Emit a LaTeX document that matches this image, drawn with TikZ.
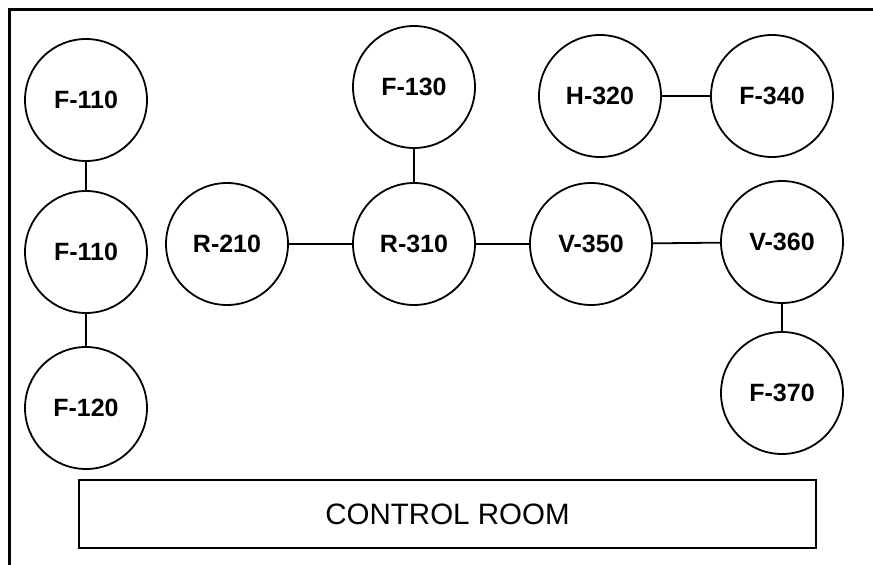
\documentclass[tikz,border=0pt]{standalone}
\usepackage{fontspec}
\setmainfont{Liberation Sans}
\begin{document}
\begin{tikzpicture}[x=1pt,y=-1pt,
  unit/.style={circle,draw=black,line width=1.8pt,minimum size=122pt,inner sep=0pt,
    font=\fontsize{25}{30}\selectfont\bfseries},
  pipe/.style={draw=black,line width=1.8pt},
  roombox/.style={rectangle,draw=black,line width=1.8pt,minimum width=737pt,minimum height=68pt,
    inner sep=0pt,font=\fontsize{29.5}{34}\selectfont}]
\useasboundingbox (0,0) rectangle (873,565);
\fill[white] (0,0) rectangle (873,565);
% frame
\draw[line width=2.8pt] (9.5,570) -- (9.5,9.5) -- (880,9.5);
% units
\node[unit] (f110a) at (86,100) {F-110};
\node[unit] (f110b) at (86,252) {F-110};
\node[unit] (f120)  at (86,408) {F-120};
\node[unit] (r210)  at (227,244) {R-210};
\node[unit] (f130)  at (414,87) {F-130};
\node[unit] (r310)  at (414,244) {R-310};
\node[unit] (v350)  at (591,244) {V-350};
\node[unit] (h320)  at (600,96) {H-320};
\node[unit] (f340)  at (772,96) {F-340};
\node[unit] (v360)  at (782,242) {V-360};
\node[unit] (f370)  at (782,393) {F-370};
\node[roombox] (room) at (447.5,514) {CONTROL ROOM};
% connectors
\draw[pipe] (f110a) -- (f110b);
\draw[pipe] (f110b) -- (f120);
\draw[pipe] (r210) -- (r310);
\draw[pipe] (f130) -- (r310);
\draw[pipe] (r310) -- (v350);
\draw[pipe] (v350) -- (v360);
\draw[pipe] (h320) -- (f340);
\draw[pipe] (v360) -- (f370);
\end{tikzpicture}
\end{document}
